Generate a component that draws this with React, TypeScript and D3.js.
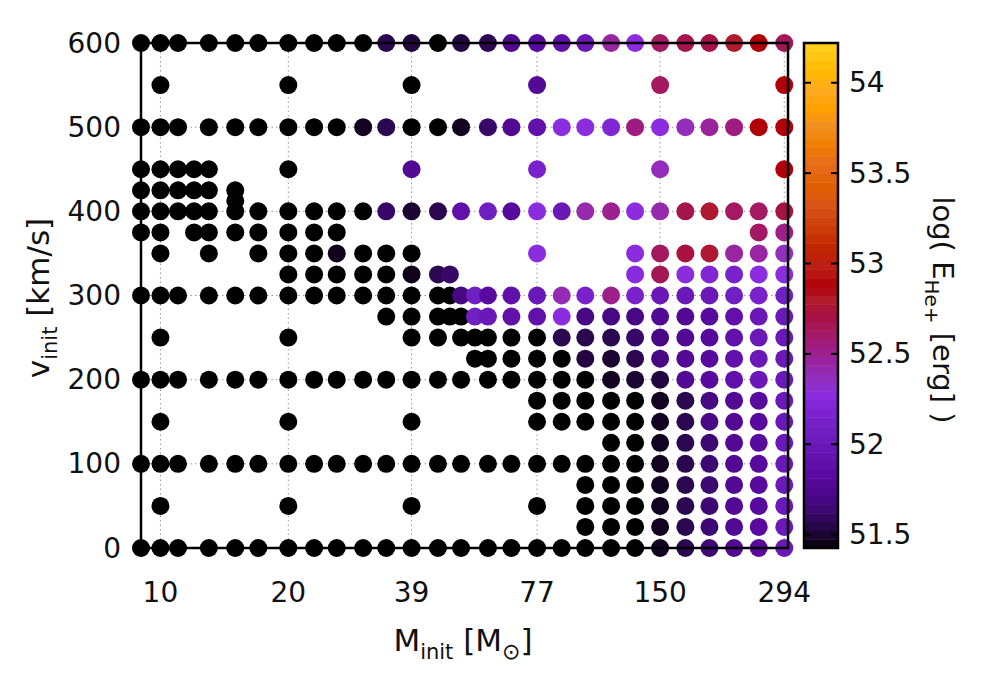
import React from "react";
import * as d3 from "d3";

const massTicks = [10, 20, 39, 77, 150, 294];
const velTicks = [0, 100, 200, 300, 400, 500, 600];
const cbTicks = [51.5, 52, 52.5, 53, 53.5, 54];

// models whose energy falls below the colour range (drawn black): [v_init, masses]
const blackPoints: [number, number[]][] = [
  [600, [9, 10, 11, 13, 15, 17, 20, 23, 26, 30, 45]],
  [550, [10, 20, 39]],
  [500, [9, 10, 11, 13, 15, 17, 20, 23, 26, 39, 45]],
  [450, [9, 10, 11, 12, 13, 20]],
  [425, [9, 10, 11, 12, 13, 15]],
  [412.5, [15]],
  [400, [9, 10, 11, 12, 13, 15, 17, 20, 23, 26, 30]],
  [375, [9, 10, 12, 13, 15, 17, 20, 23, 26]],
  [350, [10, 13, 17, 20, 23, 30, 34, 39]],
  [325, [20, 23, 26, 30, 34]],
  [300, [9, 10, 11, 13, 15, 17, 20, 23, 26, 30, 34, 39, 45, 48]],
  [275, [34, 39, 45, 48, 51]],
  [250, [10, 20, 39, 45, 51, 55, 59, 67, 77]],
  [225, [55, 59, 67, 77, 88]],
  [200, [9, 10, 11, 13, 15, 17, 20, 23, 26, 30, 34, 39, 45, 51, 59, 67, 77, 88, 100]],
  [175, [77, 88, 100, 115, 131]],
  [150, [10, 20, 39, 77, 88, 100, 115, 131]],
  [125, [115, 131]],
  [100, [9, 10, 11, 13, 15, 17, 20, 23, 26, 30, 34, 39, 45, 51, 59, 67, 77, 88, 100, 115, 131]],
  [75, [100, 115, 131]],
  [50, [10, 20, 39, 77, 100, 115, 131]],
  [25, [100, 115, 131]],
  [0, [9, 10, 11, 13, 15, 17, 20, 23, 26, 30, 34, 39, 45, 51, 59, 67, 77, 88, 100, 115, 131]],
];

// models with log(E_He+) inside the colour range: [v_init, [mass, logE]]
const colouredPoints: [number, [number, number][]][] = [
  [600, [[34, 51.56], [39, 51.53], [51, 51.53], [59, 51.57], [67, 51.74], [77, 51.82], [88, 51.9], [100, 52.0],
    [115, 52.45], [131, 52.27], [150, 52.62], [172, 52.68], [196, 52.7], [224, 52.8], [256, 52.88], [294, 52.64]]],
  [550, [[77, 51.77], [150, 52.63], [294, 52.88]]],
  [500, [[30, 51.47], [34, 51.56], [51, 51.47], [59, 51.62], [67, 51.77], [77, 51.9], [88, 52.27], [100, 52.27],
    [115, 52.2], [131, 52.55], [150, 52.27], [172, 52.38], [196, 52.47], [224, 52.55], [256, 52.88], [294, 52.88]]],
  [450, [[39, 51.77], [77, 52.15], [150, 52.38], [294, 52.88]]],
  [400, [[34, 51.62], [39, 51.5], [45, 51.56], [51, 51.9], [59, 52.08], [67, 51.82], [77, 52.27], [88, 52.0],
    [100, 52.42], [115, 52.5], [131, 52.27], [150, 52.42], [172, 52.68], [196, 52.78], [224, 52.62], [256, 52.62], [294, 52.7]]],
  [375, [[256, 52.62], [294, 52.52]]],
  [350, [[26, 51.46], [77, 52.27], [131, 52.27], [150, 52.63], [172, 52.73], [196, 52.78], [224, 52.45], [256, 52.45], [294, 52.36]]],
  [325, [[39, 51.46], [45, 51.56], [48, 51.62], [131, 52.25], [150, 52.65], [172, 52.27], [196, 52.2], [224, 52.15],
    [256, 52.27], [294, 52.27]]],
  [300, [[51, 51.7], [55, 52.08], [59, 51.82], [67, 51.9], [77, 52.0], [88, 52.4], [100, 52.15], [115, 52.52],
    [131, 52.15], [150, 52.0], [172, 52.0], [196, 52.0], [224, 52.08], [256, 52.15], [294, 52.08]]],
  [275, [[55, 52.08], [59, 52.0], [67, 51.9], [77, 51.9], [88, 52.27], [100, 51.7], [115, 51.7], [131, 51.7],
    [150, 51.77], [172, 51.77], [196, 51.82], [224, 51.9], [256, 52.0], [294, 52.0]]],
  [250, [[88, 51.56], [100, 51.56], [115, 51.56], [131, 51.62], [150, 51.7], [172, 51.77], [196, 51.82], [224, 51.9],
    [256, 52.0], [294, 52.0]]],
  [225, [[100, 51.53], [115, 51.5], [131, 51.56], [150, 51.7], [172, 51.77], [196, 51.82], [224, 51.9], [256, 52.0], [294, 52.0]]],
  [200, [[115, 51.47], [131, 51.5], [150, 51.53], [172, 51.77], [196, 51.82], [224, 51.9], [256, 52.0], [294, 52.0]]],
  [175, [[150, 51.47], [172, 51.56], [196, 51.7], [224, 51.77], [256, 51.82], [294, 52.0]]],
  [150, [[150, 51.47], [172, 51.56], [196, 51.7], [224, 51.77], [256, 51.82], [294, 52.0]]],
  [125, [[150, 51.47], [172, 51.56], [196, 51.64], [224, 51.77], [256, 51.82], [294, 52.0]]],
  [100, [[150, 51.47], [172, 51.56], [196, 51.64], [224, 51.77], [256, 51.82], [294, 52.0]]],
  [75, [[150, 51.47], [172, 51.56], [196, 51.64], [224, 51.77], [256, 51.82], [294, 52.0]]],
  [50, [[150, 51.47], [172, 51.56], [196, 51.64], [224, 51.77], [256, 51.82], [294, 52.0]]],
  [25, [[150, 51.47], [172, 51.56], [196, 51.64], [224, 51.77], [256, 51.82], [294, 52.0]]],
  [0, [[150, 51.47], [172, 51.56], [196, 51.64], [224, 51.77], [256, 51.82], [294, 52.0]]],
];

// palette stops
const stopValues = [51.43, 51.5, 51.58, 51.66, 51.75, 51.83, 51.92, 52.0, 52.08, 52.16, 52.26, 52.36, 52.46, 52.55,
  52.64, 52.72, 52.8, 52.88, 52.98, 53.08, 53.2, 53.32, 53.42, 53.55, 53.65, 53.76, 53.86, 53.96, 54.06, 54.21];
const stopColours = ["#050008", "#1c0532", "#2e0858", "#42087a", "#4f0890", "#5a0aa0", "#6412ad", "#6a18b8", "#7020c2",
  "#7a22cc", "#8a2be2", "#9230c0", "#9a24a0", "#9e1c80", "#a4185a", "#a81040", "#b01c2c", "#b00008", "#bc2018",
  "#c02400", "#cc3e08", "#d85418", "#e06000", "#e66c1c", "#f07e00", "#f29020", "#ffa000", "#ffaa20", "#ffb800", "#ffd020"];

const font = "'DejaVu Sans', sans-serif";

export default function App() {
  const left = 141, right = 788, top = 43, bottom = 548;
  const cbLeft = 804, cbRight = 838;
  const r = 9;

  const x = d3.scaleLog().domain([9, 300]).range([left, right]);
  const y = d3.scaleLinear().domain([0, 600]).range([bottom, top]);
  const cbY = d3.scaleLinear().domain([51.426, 54.22]).range([bottom, top]);
  const colour = d3.scaleLinear<string>().domain(stopValues).range(stopColours)
    .interpolate(d3.interpolateRgb).clamp(true);

  const nBands = 58;
  const step = (54.22 - 51.426) / nBands;
  const bands = d3.range(nBands).map(i => 51.426 + i * step);

  const pts: { m: number; v: number; fill: string }[] = [];
  blackPoints.forEach(([v, ms]) => ms.forEach(m => pts.push({ m, v, fill: "#000" })));
  colouredPoints.forEach(([v, list]) => list.forEach(([m, e]) => pts.push({ m, v, fill: colour(e) })));

  return (
    <svg width={1000} height={700} style={{ position: "absolute", left: 0, top: 0, background: "#fff" }}
      fontFamily={font}>
      {/* grid */}
      <g stroke="#999" strokeWidth={1} strokeDasharray="1.5,3">
        {massTicks.map(t => <line key={"gx" + t} x1={x(t)} x2={x(t)} y1={top} y2={bottom} />)}
        {velTicks.map(t => <line key={"gy" + t} x1={left} x2={right} y1={y(t)} y2={y(t)} />)}
      </g>

      {/* points */}
      <g>
        {pts.map((p, i) => <circle key={i} cx={x(p.m)} cy={y(p.v)} r={r} fill={p.fill} />)}
      </g>

      {/* frame */}
      <rect x={left} y={top} width={right - left} height={bottom - top} fill="none" stroke="#000" strokeWidth={2.5} />

      {/* tick labels */}
      <g fontSize={28} fill="#111">
        {velTicks.map(t => (
          <text key={"ly" + t} x={121} y={y(t)} textAnchor="end" dominantBaseline="central">{t}</text>
        ))}
        {massTicks.map(t => (
          <text key={"lx" + t} x={x(t)} y={592} textAnchor="middle" dominantBaseline="central">{t}</text>
        ))}
      </g>

      {/* axis titles */}
      <text x={463} y={651} textAnchor="middle" fontSize={31} fill="#111">
        M<tspan fontSize={21} dy={8}>init</tspan><tspan dy={-8}> [M</tspan>
        <tspan fontSize={22} dy={8}>⊙</tspan><tspan dy={-8}>]</tspan>
      </text>
      <text transform="translate(49,298) rotate(-90)" textAnchor="middle" fontSize={31} fill="#111">
        v<tspan fontSize={21} dy={8}>init</tspan><tspan dy={-8}> [km/s]</tspan>
      </text>

      {/* colour bar */}
      <g>
        {bands.map((b, i) => (
          <rect key={"cb" + i} x={cbLeft} width={cbRight - cbLeft} y={cbY(b + step)} height={cbY(b) - cbY(b + step) + 0.5}
            fill={colour(b + step / 2)} />
        ))}
        <rect x={cbLeft} y={top} width={cbRight - cbLeft} height={bottom - top} fill="none" stroke="#000" strokeWidth={2.5} />
        {cbTicks.map(t => (
          <g key={"ct" + t}>
            <line x1={cbLeft} x2={cbLeft + 7} y1={cbY(t)} y2={cbY(t)} stroke="#000" strokeWidth={2} />
            <line x1={cbRight - 7} x2={cbRight} y1={cbY(t)} y2={cbY(t)} stroke="#000" strokeWidth={2} />
            <text x={849} y={cbY(t)} dominantBaseline="central" fontSize={28} fill="#111">{t}</text>
          </g>
        ))}
      </g>
      <text transform="translate(933,310) rotate(90)" textAnchor="middle" fontSize={29} fill="#111">
        log( E<tspan fontSize={20} dy={8}>He+</tspan><tspan dy={-8}> [erg] )</tspan>
      </text>
    </svg>
  );
}
